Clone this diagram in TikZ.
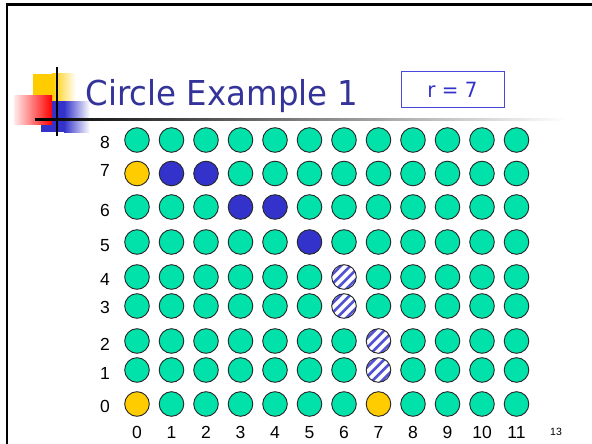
\documentclass[tikz,border=0pt]{standalone}
\usepackage{fontspec}
\setmainfont{Liberation Sans}
\newfontfamily\titlefont[FakeStretch=0.945]{DejaVu Sans}

\definecolor{titleblue}{RGB}{51,51,153}
\definecolor{rblue}{RGB}{51,51,204}
\definecolor{boxblue}{RGB}{72,72,220}
\definecolor{dotgreen}{RGB}{0,226,170}
\definecolor{dotblue}{RGB}{51,51,204}
\definecolor{dotyellow}{RGB}{255,204,0}
\definecolor{logoblue}{RGB}{51,51,204}

\tikzset{
  dot/.style={circle, draw=black!85, line width=0.9pt, minimum size=24.6pt,
    inner sep=0pt, fill=dotgreen},
  dot yellow/.style={fill=dotyellow},
  dot blue/.style={fill=dotblue},
  dot striped/.style={fill=white, path picture={
    \foreach \k in {-2,...,1}
      \draw[dotblue!85, line width=2.6pt]
        ([xshift={(\k+0.5)*4.7pt-15pt}, yshift={-1*(\k+0.5)*4.7pt-15pt}]path picture bounding box.center)
        -- ([xshift={(\k+0.5)*4.7pt+15pt}, yshift={-1*(\k+0.5)*4.7pt+15pt}]path picture bounding box.center);
  }},
  % which dots are not green
  cell 0-7/.style={dot yellow}, cell 0-0/.style={dot yellow}, cell 7-0/.style={dot yellow},
  cell 1-7/.style={dot blue}, cell 2-7/.style={dot blue}, cell 3-6/.style={dot blue},
  cell 4-6/.style={dot blue}, cell 5-5/.style={dot blue},
  cell 6-4/.style={dot striped}, cell 6-3/.style={dot striped},
  cell 7-2/.style={dot striped}, cell 7-1/.style={dot striped},
  numlabel/.style={inner sep=0pt, font=\fontsize{17.5}{20}\selectfont},
}

\begin{document}
\begin{tikzpicture}[x=1pt, y=-1pt]
    \useasboundingbox (0,0) rectangle (592,444);

    % Slide frame
    \draw[line width=2.2pt] (7,444) -- (7,4.5) -- (592,4.5);

    % Logo squares
    \fill[dotyellow] (33,74) rectangle (52,100);
    \shade[left color=dotyellow, right color=white] (52,74) rectangle (76,100);
    \fill[logoblue] (41,101) rectangle (64,132);
    \shade[left color=logoblue, right color=white] (64,101) rectangle (90,132);
    \shade[left color=red!8, right color=red] (14,96) rectangle (52,124);
    \draw[line width=2pt] (56.7,67) -- (56.7,136);

    % Title and underline
    \shade[left color=black, right color=white] (35,118.2) rectangle (567,120.6);
    \node[anchor=base west, inner sep=0pt, text=titleblue,
      font=\titlefont\fontsize{34.3}{40}\selectfont] (title) at (85.5,106) {Circle Example 1};

    % Radius box
    \node[draw=boxblue, line width=1pt, minimum width=103pt, minimum height=35pt,
      inner sep=0pt, text=rblue, font=\titlefont\fontsize{21}{24}\selectfont]
      (rbox) at (452.5,89.5) {r = 7};

    % Grid of dots
    \foreach \x in {0,...,11}
      \foreach \y/\yy in {0/404,1/370,2/341,3/306,4/277,5/242,6/207,7/173.5,8/140}
        \node[dot, cell \x-\y/.try] (c-\x-\y) at ({137+34.5*\x},\yy) {};

    % Axis numbers
    \foreach \y/\yy in {0/406,1/373,2/344,3/307,4/279,5/245.5,6/210.5,7/170.5,8/142}
      \node[numlabel] (yl-\y) at (105,\yy) {\y};
    \foreach \x in {0,...,11}
      \node[numlabel] (xl-\x) at ({137+34.5*\x},432.5) {\x};

    % Page number
    \node[inner sep=0pt, font=\fontsize{10.5}{12}\selectfont] (pagenum) at (556,432) {13};
\end{tikzpicture}
\end{document}
